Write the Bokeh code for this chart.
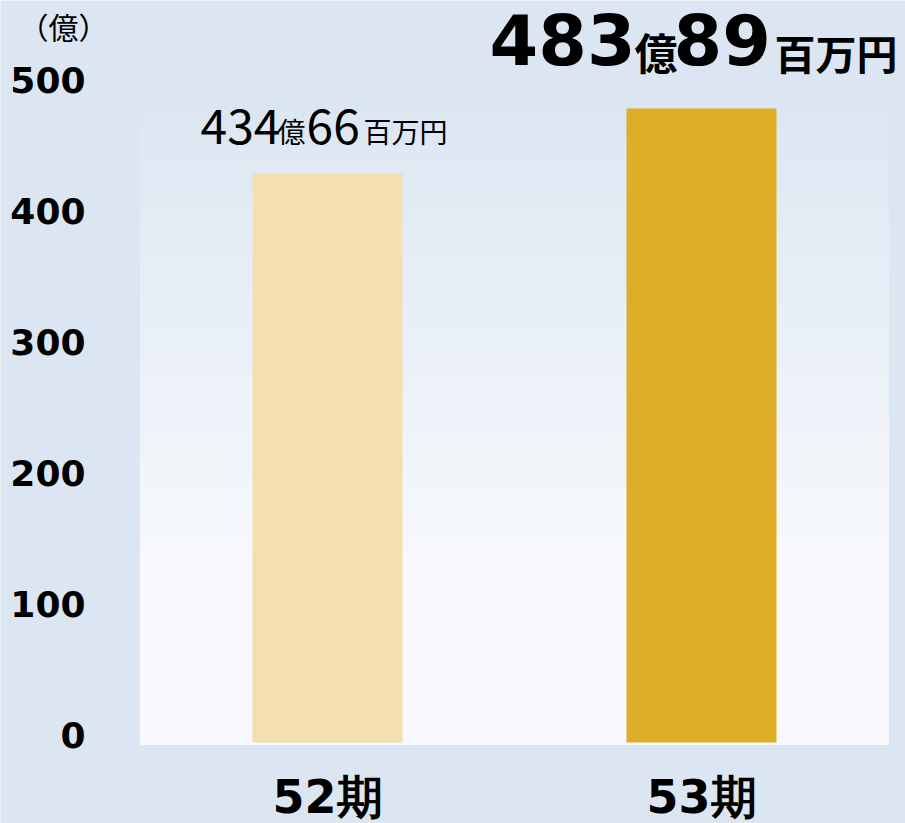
from bokeh.plotting import figure
from bokeh.models import Range1d, ColumnDataSource
from bokeh.core.properties import value
from bokeh.embed import file_html
from bokeh.resources import INLINE

# ---------------- data ----------------
categories = ["52期", "53期"]
values = [434.66, 483.89]          # 億円
bar_colors = ["#f3dfb0", "#dfae28"]
y_ticks = [0, 100, 200, 300, 400, 500]
unit_label = "（億）"

# ---------------- layout constants ----------------
W, H = 905, 823
BASE_PX = 742          # pixel row (from top) of value 0
PX_PER_UNIT = 1.31
CENTER0_PX = 327       # pixel column of first category
CAT_STEP_PX = 374

y0 = -(H - BASE_PX) / PX_PER_UNIT
y1 = BASE_PX / PX_PER_UNIT
x0 = -CENTER0_PX / CAT_STEP_PX
x1 = (W - CENTER0_PX) / CAT_STEP_PX


def yoff(baseline_px, size_px):
    # compensate the renderer's baseline placement
    return baseline_px - 0.415 * size_px


BG = "#dce6f2"
p = figure(width=W, height=H, x_range=Range1d(x0, x1), y_range=Range1d(y0, y1),
           output_backend="svg", toolbar_location=None,
           x_axis_location=None, y_axis_location=None, min_border=0)
p.background_fill_color = BG
p.border_fill_color = BG
p.outline_line_color = None
p.xgrid.visible = False
p.ygrid.visible = False

# ---------------- plot-area gradient ----------------
area_top = 490.0
area_bottom = -1.5
grad_end = 139.0
top_rgb = (220, 230, 242)
bot_rgb = (247, 249, 252)
N = 70
tops, cols = [], []
for k in range(N):
    t_hi = area_top - (area_top - area_bottom) * k / N
    t_lo = area_top - (area_top - area_bottom) * (k + 1) / N
    mid = (t_hi + t_lo) / 2
    f = min(1.0, max(0.0, (area_top - mid) / (area_top - grad_end)))
    c = tuple(int(round(a + (b - a) * f)) for a, b in zip(top_rgb, bot_rgb))
    tops.append(t_hi)
    cols.append("#%02x%02x%02x" % c)
p.quad(left=-0.5, right=len(categories) - 0.5, top=tops, bottom=area_bottom,
       fill_color=cols, line_color=None)

# ---------------- bars ----------------
xs = list(range(len(categories)))
src = ColumnDataSource(dict(x=xs, top=values, color=bar_colors, cat=categories))
p.vbar(x="x", top="top", bottom=0, width=150 / CAT_STEP_PX, fill_color="color",
       line_color=None, source=src)

# ---------------- y tick labels ----------------
p.text(x=[x0] * len(y_ticks), y=y_ticks, text=[str(t) for t in y_ticks],
       x_offset=85, y_offset=yoff(7, 36), text_align="right", text_baseline="alphabetic",
       text_font=value("DejaVu Sans"), text_font_style="bold",
       text_font_size="36px", text_color="#000000")

# unit label
p.text(x=[x0], y=[y1], text=[unit_label], x_offset=63, y_offset=yoff(38, 30),
       text_align="center", text_baseline="alphabetic",
       text_font=value("Noto Sans CJK JP"), text_font_size="30px", text_color="#000000")

# ---------------- category labels ----------------
p.text(x=xs, y=[0] * len(xs), text=categories, x_offset=0, y_offset=yoff(74, 46),
       text_align="center", text_baseline="alphabetic",
       text_font=value("DejaVu Sans"), text_font_style="bold",
       text_font_size="46px", text_color="#000000")

# ---------------- value labels ----------------
def parts(v):
    oku = int(v)
    man = int(round((v - oku) * 100))
    return str(oku), "億", "%02d" % man, "百万円"

# previous period: regular weight
a, b, c, d = parts(values[0])
seg0 = [(a, -127, 48, -27), (b, -50, 28, -30), (c, -21, 48, -27), (d, 36, 28, -30)]
for txt, off, size, base in seg0:
    p.text(x=[0], y=[values[0]], text=[txt], x_offset=off, y_offset=yoff(base, size),
           text_align="left", text_baseline="alphabetic",
           text_font=value("Noto Sans CJK JP"), text_font_size="%dpx" % size,
           text_color="#000000")

# current period: bold, large
a, b, c, d = parts(values[1])
seg1 = [(a, -212, "DejaVu Sans", 70, -40), (b, -67, "Noto Sans CJK JP", 43, -40),
        (c, -28, "DejaVu Sans", 70, -40), (d, 73, "Noto Sans CJK JP", 41, -40)]
for txt, off, font, size, base in seg1:
    p.text(x=[1], y=[values[1]], text=[txt], x_offset=off, y_offset=yoff(base, size),
           text_align="left", text_baseline="alphabetic",
           text_font=value(font), text_font_style="bold", text_font_size="%dpx" % size,
           text_color="#000000")

open("out.html", "w").write(file_html(p, INLINE))
